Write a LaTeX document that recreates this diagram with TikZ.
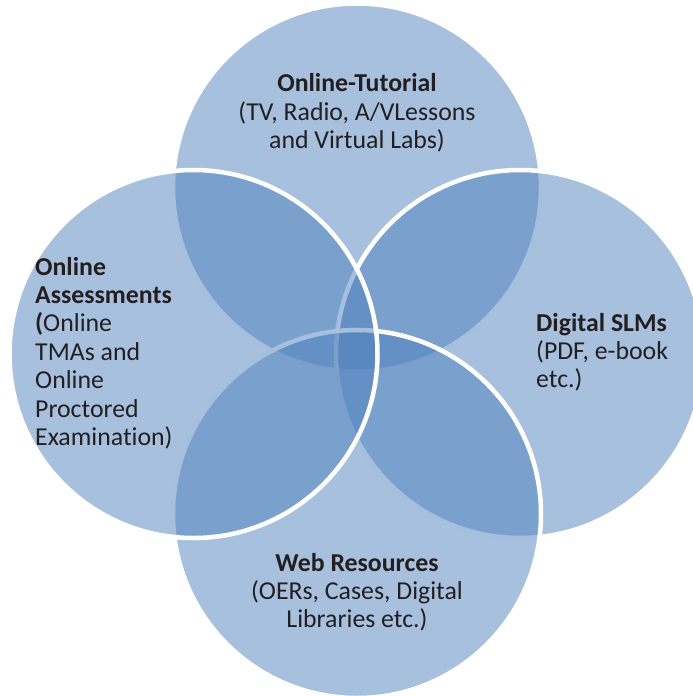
\documentclass[tikz,border=0pt]{standalone}
\usepackage{fontspec}
\setmainfont{Carlito}[Ligatures=NoCommon]
\definecolor{vennblue}{HTML}{4F81BD}
\definecolor{txt}{HTML}{231F20}
\begin{document}
\begin{tikzpicture}[x=1pt,y=-1pt,
  venn/.style={fill=vennblue, fill opacity=0.5, draw=white, line width=4.5pt},
  lbl/.style={font=\fontsize{25.8}{28.4}\selectfont, text=txt, inner sep=0pt}]
\useasboundingbox (0,0) rectangle (693,696);
\coordinate (cT) at (357,187.5);
\coordinate (cR) at (520,354);
\coordinate (cB) at (357,514);
\coordinate (cL) at (193.5,354);
\path[venn] (cT) circle[radius=184pt];
\path[venn] (cR) circle[radius=184pt];
\path[venn] (cB) circle[radius=184pt];
\path[venn] (cL) circle[radius=184pt];
% base anchor of a multi-line node = baseline of its last line
\node[lbl, align=center, anchor=base] (tut) at (357,148.5)
  {\textbf{Online-Tutorial}\\(TV, Radio, A/VLessons\\and Virtual Labs)};
\node[lbl, align=left, anchor=base west] (ass) at (35,445.4)
  {\textbf{Online}\\\textbf{Assessments}\\\textbf{(}Online\\TMAs and\\Online\\Proctored\\Examination)};
\node[lbl, align=left, anchor=base west] (slm) at (536,387.8)
  {\textbf{Digital SLMs}\\(PDF, e-book\\etc.)};
\node[lbl, align=center, anchor=base] (web) at (357,627.8)
  {\textbf{Web Resources}\\(OERs, Cases, Digital\\Libraries etc.)};
\end{tikzpicture}
\end{document}
